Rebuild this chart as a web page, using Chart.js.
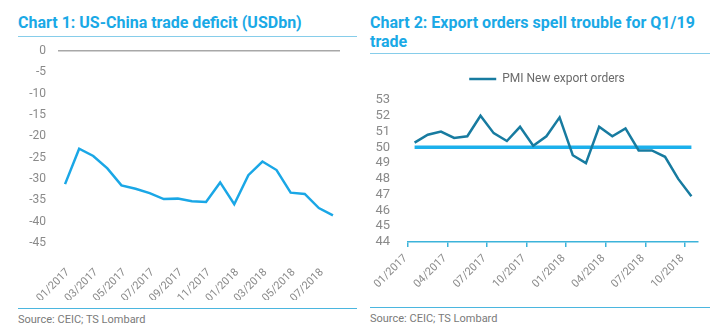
<!DOCTYPE html>
<html><head><meta charset="utf-8">
<script src="https://cdn.jsdelivr.net/npm/chart.js@4/dist/chart.umd.min.js"></script>
<style>
html,body{margin:0;padding:0;background:#fff;}
body{width:710px;height:334px;position:relative;overflow:hidden;font-family:Roboto,"Open Sans",sans-serif;}
.t{position:absolute;color:#1aa9e6;font-weight:bold;font-size:16px;line-height:19px;}
.rule{position:absolute;height:1px;background:#86cdea;}
.src{position:absolute;color:#7a7a7a;font-size:11px;}
canvas{position:absolute;}
</style></head><body>
<div class="t" style="left:18px;top:13px;">Chart 1: US-China trade deficit (USDbn)</div>
<div class="rule" style="left:18px;top:36px;width:339px;"></div>
<div class="t" style="left:370px;top:13px;width:335px;">Chart 2: Export orders spell trouble for Q1/19 trade</div>
<div class="rule" style="left:370px;top:53px;width:340px;"></div>
<div class="rule" style="left:18px;top:308px;width:339px;background:#4bb6df;"></div>
<div class="rule" style="left:370px;top:307px;width:340px;background:#4bb6df;"></div>
<div class="src" style="left:18px;top:313px;">Source: CEIC; TS Lombard</div>
<div class="src" style="left:370px;top:312px;">Source: CEIC; TS Lombard</div>
<div style="position:absolute;left:0;top:40px;width:358px;height:260px;"><canvas id="c1"></canvas></div>
<div style="position:absolute;left:360px;top:55px;width:350px;height:250px;"><canvas id="c2"></canvas></div>
<script>
const months1 = ["01/2017","02/2017","03/2017","04/2017","05/2017","06/2017","07/2017","08/2017","09/2017","10/2017","11/2017","12/2017","01/2018","02/2018","03/2018","04/2018","05/2018","06/2018","07/2018","08/2018"];
const deficit = [-31.2,-22.9,-24.6,-27.5,-31.5,-32.3,-33.3,-34.7,-34.6,-35.2,-35.4,-30.8,-35.9,-29.1,-25.9,-27.9,-33.2,-33.5,-36.8,-38.5];
const months2 = ["01/2017","02/2017","03/2017","04/2017","05/2017","06/2017","07/2017","08/2017","09/2017","10/2017","11/2017","12/2017","01/2018","02/2018","03/2018","04/2018","05/2018","06/2018","07/2018","08/2018","09/2018","10/2018"];
const pmiExport = [50.3,50.8,51.0,50.6,50.7,52.0,50.9,50.4,51.3,50.1,50.7,51.9,49.5,49.0,51.3,50.7,51.2,49.8,49.8,49.4,48.0,46.9];
const threshold = [50,50,50,50,50,50,50,50,50,50,50,50,50,50,50,50,50,50,50,50,50,50];
const yTicks1 = [0,-5,-10,-15,-20,-25,-30,-35,-40,-45];
const yTicks2 = [53,52,51,50,49,48,47,46,45,44];

const FONT = 'Roboto, "Open Sans", sans-serif';
const GREY = '#8a8a8a';

new Chart(document.getElementById('c1'), {
  type: 'line',
  data: { labels: months1, datasets: [{ label: 'US-China trade deficit', data: deficit, borderColor: '#1aa7e6', borderWidth: 2.5, pointRadius: 0, tension: 0, fill: false }] },
  options: {
    responsive: true, maintainAspectRatio: false, animation: false,
    layout: { padding: { top: 11, right: 18, left: 0, bottom: 0 } },
    plugins: { legend: { display: false }, tooltip: { enabled: false } },
    scales: {
      x: {
        offset: true,
        grid: { display: false },
        border: { display: false },
        afterFit: s => { s.height = 57; },
        ticks: { autoSkip: false, minRotation: 45, maxRotation: 45, padding: 15, labelOffset: 3, color: GREY, font: { family: FONT, size: 11 },
          callback: function(v, i) { return i % 2 === 0 ? months1[i] : ''; } }
      },
      y: {
        min: Math.min(...yTicks1), max: Math.max(...yTicks1),
        afterFit: s => { s.width = 58; s.paddingTop = 0; s.paddingBottom = 0; },
        afterBuildTicks: s => { s.ticks = yTicks1.map(v => ({ value: v })); },
        border: { display: false },
        grid: { drawTicks: false, lineWidth: 1.5, color: c => (c.tick && c.tick.value === 0) ? '#a8a8a8' : 'transparent' },
        ticks: { autoSkip: false, padding: 12, color: GREY, font: { family: FONT, size: 12 } }
      }
    }
  }
});

const legendTweak = {
  id: 'legendTweak',
  beforeLayout(chart) {
    const lg = chart.legend;
    if (lg && !lg._tweaked) {
      const fit = lg.fit.bind(lg);
      lg.fit = function() { fit(); this.height += 5; };
      lg._tweaked = true;
    }
  },
  afterLayout(chart) {
    if (chart.legend) { chart.legend.left += 36; }
  }
};

new Chart(document.getElementById('c2'), {
  type: 'line',
  data: { labels: months2, datasets: [
    { label: 'PMI New export orders', data: pmiExport, borderColor: '#177ba0', backgroundColor: '#177ba0', borderWidth: 2.5, pointRadius: 0, pointStyle: 'line', tension: 0, fill: false },
    { label: '50', data: threshold, borderColor: '#1cb0ec', borderWidth: 3.5, pointRadius: 0, tension: 0, fill: false }
  ] },
  plugins: [legendTweak],
  options: {
    responsive: true, maintainAspectRatio: false, animation: false,
    layout: { padding: { top: 0, right: 12, left: 0, bottom: 0 } },
    plugins: {
      legend: { display: true, position: 'top',
        labels: { filter: it => it.datasetIndex === 0, usePointStyle: true, pointStyleWidth: 27, boxHeight: 12, padding: 18, color: '#6a6a6a', font: { family: FONT, size: 12 } } },
      tooltip: { enabled: false }
    },
    scales: {
      x: {
        offset: true,
        grid: { offset: true, drawOnChartArea: false, drawTicks: true, tickLength: 5, lineWidth: 1.5, color: c => (c.index % 3 === 0) ? '#3cb3da' : 'transparent' },
        border: { display: true, color: '#3cb3da', width: 1.5 },
        afterFit: s => { s.height = 63; },
        ticks: { autoSkip: false, minRotation: 45, maxRotation: 45, padding: 5, labelOffset: -9, color: GREY, font: { family: FONT, size: 11 },
          callback: function(v, i) { return i % 3 === 0 ? months2[i] : ''; } }
      },
      y: {
        min: Math.min(...yTicks2), max: Math.max(...yTicks2),
        afterFit: s => { s.width = 48; },
        afterBuildTicks: s => { s.ticks = yTicks2.map(v => ({ value: v })); },
        border: { display: false },
        grid: { display: false },
        ticks: { autoSkip: false, padding: 10, color: GREY, font: { family: FONT, size: 13 } }
      }
    }
  }
});
</script>
</body></html>
